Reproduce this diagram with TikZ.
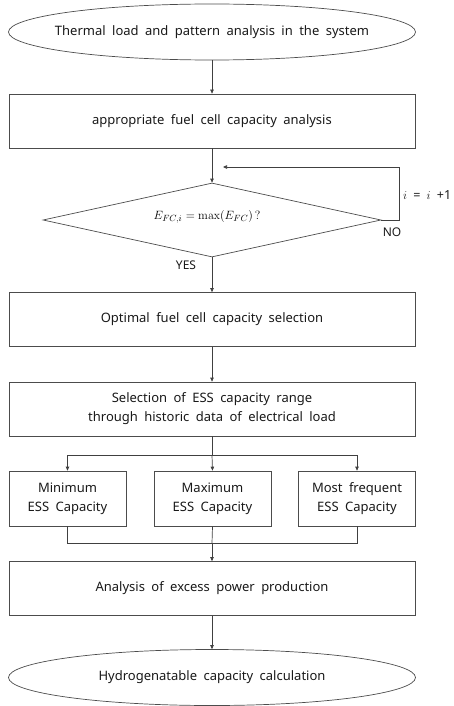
\documentclass[tikz,border=0pt]{standalone}
\usepackage[no-math]{fontspec}
\setmainfont{Noto Sans}[WordSpace=1.9]
\usetikzlibrary{shapes.geometric,arrows.meta}
\tikzset{
  x=1pt, y=1pt,
  lnk/.style={draw=black!75, line width=0.7pt},
  arr/.style={lnk, -{Triangle[length=4pt,width=3.5pt]}},
  txt/.style={font=\fontsize{13}{19}\selectfont, text=black!90, align=center, inner sep=0pt},
  boxw/.style={txt, draw=black!70, line width=0.7pt, minimum width=406pt, minimum height=54pt},
  boxs/.style={txt, draw=black!70, line width=0.7pt, minimum width=117pt, minimum height=55pt},
  oval/.style={txt, ellipse, draw=black!70, line width=0.7pt, inner xsep=-60pt, minimum width=407pt, minimum height=56pt},
  dia/.style={txt, diamond, draw=black!70, line width=0.7pt, minimum width=338pt, minimum height=74pt, aspect=4.5},
}
\begin{document}
\begin{tikzpicture}
\useasboundingbox (0,0) rectangle (453,-706);
\node[oval] (start) at (212,-32) {Thermal load and pattern analysis in the system};
\node[boxw] (fc) at (212,-121) {appropriate fuel cell capacity analysis};
\node[dia] (chk) at (212,-220) {};
\node[font=\fontsize{12.5}{14}\selectfont] (eq) at (207,-217) {$E_{FC,i}=\max(E_{FC})\,?$};
\node[boxw] (opt) at (212,-319.5) {Optimal fuel cell capacity selection};
\node[boxw] (rng) at (212,-409) {Selection of ESS capacity range\\through historic data of electrical load};
\node[boxs] (mn) at (67.5,-498.5) {Minimum\\ESS Capacity};
\node[boxs] (mx) at (212.5,-498.5) {Maximum\\ESS Capacity};
\node[boxs] (mf) at (357,-498.5) {Most frequent\\ESS Capacity};
\node[boxw] (exc) at (212,-588.5) {Analysis of excess power production};
\node[oval] (hyd) at (212,-677.5) {Hydrogenatable capacity calculation};

% labels of the decision
\node[txt, anchor=west, font=\fontsize{12.5}{14}\selectfont] (inc) at (403,-195) {$i$ = $i$ +1};
\node[txt, font=\fontsize{12}{14}\selectfont] (no) at (392,-232) {NO};
\node[txt, font=\fontsize{12}{14}\selectfont] (yes) at (186,-265) {YES};

% coordinates for the loop and the branches
\coordinate (lp1) at (399,-220);
\coordinate (lp2) at (399,-167);
\coordinate (lp3) at (223,-167);
\coordinate (sp) at (212,-455);
\coordinate (jn) at (212,-543);

% main flow
\draw[arr] (start.south) -- (fc.north);
\draw[arr] (fc.south) -- (chk.north);
\draw[lnk] (chk.east) -- (lp1) -- (lp2);
\draw[arr] (lp2) -- (lp3);
\draw[arr] (chk.south) -- (opt.north);
\draw[arr] (opt.south) -- (rng.north);
\draw[lnk] (rng.south) -- (sp);
\draw[arr] (sp) -| (mn.north);
\draw[arr] (sp) -- (mx.north);
\draw[arr] (sp) -| (mf.north);
\draw[lnk] (mn.south) |- (jn);
\draw[lnk] (mf.south) |- (jn);
\draw[lnk] (mx.south) -- (jn);
\draw[arr] (jn) -- (exc.north);
\draw[arr] (exc.south) -- (hyd.north);
\end{tikzpicture}
\end{document}
